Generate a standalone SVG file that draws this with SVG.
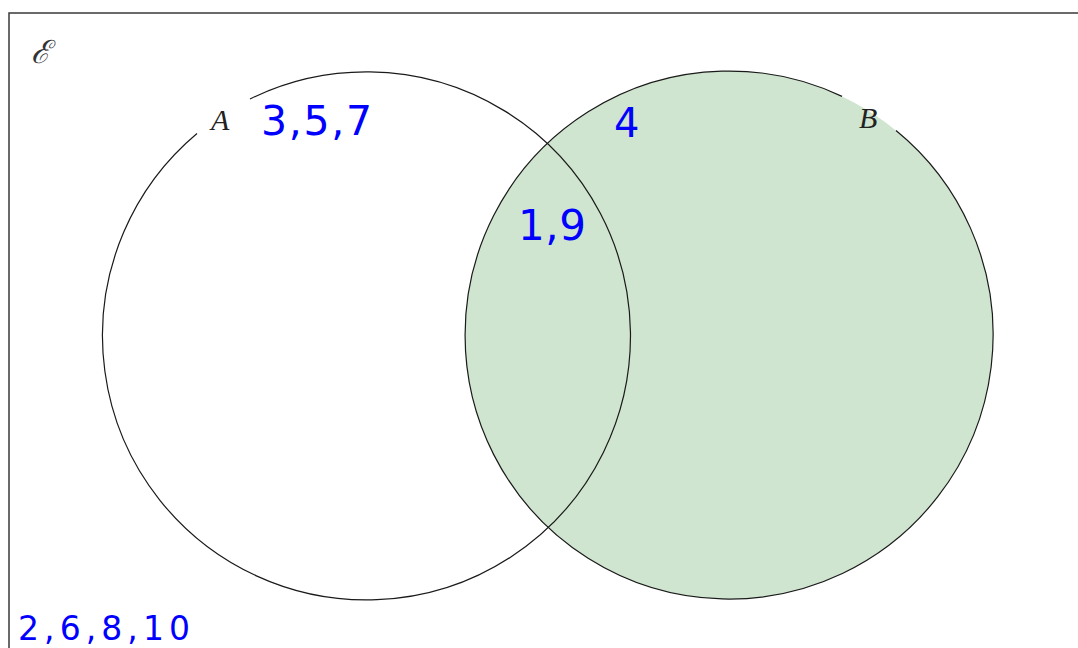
<svg xmlns="http://www.w3.org/2000/svg" width="1078" height="648" viewBox="0 0 1078 648">
<style>
.frame{fill:none;stroke:#3a3a3a;stroke-width:1.5}
.edge{fill:none;stroke:#1a1a1a;stroke-width:1.2}
.lbl{font-family:"Liberation Serif",serif;font-style:italic;font-size:30px;fill:#222}
.hand{font-family:"DejaVu Sans","Liberation Sans",sans-serif;fill:#0000ff}
</style>
<rect width="1078" height="648" fill="#ffffff"/>
<g id="universe">
<path class="frame" d="M9,648 V13 H1078"/>
<text x="31" y="63" font-family="DejaVu Serif,serif" font-style="italic" font-size="32" fill="#333">ℰ</text>
<text class="hand" x="18" y="640" font-size="33" textLength="172" lengthAdjust="spacing">2,6,8,10</text>
</g>
<g id="setB">
<circle cx="729" cy="335" r="264" fill="#cfe5cf"/>
<path class="edge" d="M896,130.5 A264,264 0 1 1 842,96.4"/>
<text class="lbl" x="859" y="128">B</text>
<text class="hand" x="614" y="137" font-size="40">4</text>
</g>
<g id="setA">
<path class="edge" d="M250,99 A264,264 0 1 1 197,133.5"/>
<text class="lbl" x="211" y="130">A</text>
<text class="hand" x="261" y="135" font-size="41" textLength="111" lengthAdjust="spacing">3,5,7</text>
</g>
<g id="intersection">
<text class="hand" x="518" y="240" font-size="42" textLength="68" lengthAdjust="spacing">1,9</text>
</g>
</svg>
